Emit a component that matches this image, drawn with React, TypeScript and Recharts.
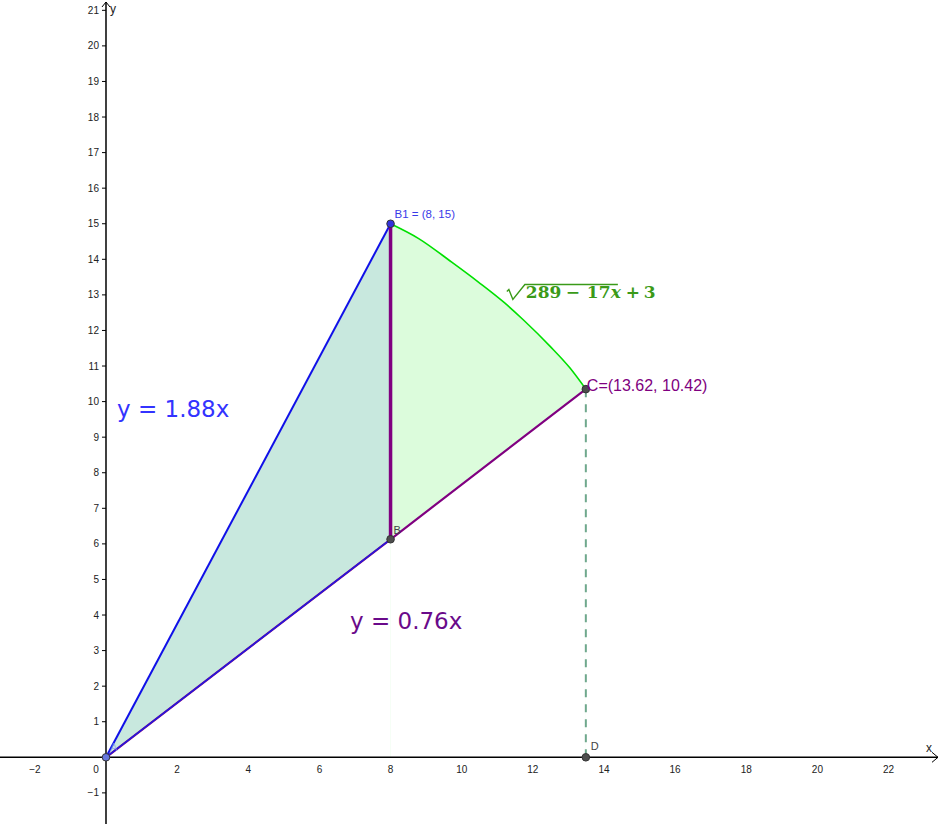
import { ComposedChart, XAxis, YAxis, Area, Line, Scatter, ReferenceLine, ReferenceDot } from 'recharts';

const X_DOMAIN: [number, number] = [-2.98, 23.475];
const Y_DOMAIN: [number, number] = [-1.875, 21.29];

// shaded triangle A - B1 - B (between y = 0.76x and y = 1.88x)
const triangleX = [0, 8];
const triangleLow = [0, 6.13];
const triangleHigh = [0, 15];

// green curve from B1 down to C
const curveX = [8, 8.78, 9.72, 10.47, 11.2, 11.73, 12.48, 13.04, 13.49];
const curveY = [15, 14.59, 13.92, 13.36, 12.78, 12.3, 11.56, 10.95, 10.35];

// y = 0.76x through A, B, C
const lowerLineX = [0, 8, 13.49];
const lowerLineY = [0, 6.13, 10.35];

// y = 1.88x from A to B1
const upperLineX = [0, 8];
const upperLineY = [0, 15];

// named points
const pointNames = ['A', 'B1', 'B', 'C', 'D'];
const pointX = [0, 8, 8, 13.49, 13.49];
const pointY = [0, 15, 6.13, 10.35, 0];
const pointLabels = ['A', 'B1 = (8, 15)', 'B', 'C=(13.62, 10.42)', 'D'];

const xTicks = [-2, 2, 4, 6, 8, 10, 12, 14, 16, 18, 20, 22];
const yTicks = [-1, 1, 2, 3, 4, 5, 6, 7, 8, 9, 10, 11, 12, 13, 14, 15, 16, 17, 18, 19, 20, 21];

const triangleData = triangleX.map((x, i) => ({ x, range: [triangleLow[i], triangleHigh[i]] }));
const curveData = curveX.map((x, i) => ({ x, y: curveY[i] }));
const lowerLineData = lowerLineX.map((x, i) => ({ x, y: lowerLineY[i] }));
const lowerBlueData = lowerLineData.slice(0, 2);
const coverData = lowerLineData.slice(1);
const upperLineData = upperLineX.map((x, i) => ({ x, y: upperLineY[i] }));
const pointData = pointNames.map((name, i) => ({ name, x: pointX[i], y: pointY[i], label: pointLabels[i] }));

const pt = (name: string) => {
  const i = pointNames.indexOf(name);
  return { x: pointX[i], y: pointY[i] };
};

const SANS = '"Liberation Sans", Arial, sans-serif';
const fmt = (v: number) => (v < 0 ? '\u2212' + Math.abs(v) : String(v));

// look of each named point and its caption
const pointStyle: Record<string, { fill: string; color: string; dx: number; dy: number; size: number; opacity: number }> = {
  A: { fill: '#6677dd', color: '#8a9af0', dx: 4, dy: -6, size: 11, opacity: 0.7 },
  B1: { fill: '#3333dd', color: '#3a3ae8', dx: 4, dy: -6, size: 11.5, opacity: 1 },
  B: { fill: '#4d4d4d', color: '#444', dx: 3, dy: -5, size: 11, opacity: 1 },
  C: { fill: '#4d4d4d', color: '#800080', dx: 1, dy: 2, size: 16, opacity: 1 },
  D: { fill: '#4d4d4d', color: '#444', dx: 5, dy: -7, size: 11, opacity: 1 },
};

const PointShape = (props: any) => {
  const { cx, cy, payload } = props;
  const s = pointStyle[payload.name];
  return (
    <g>
      <circle cx={cx} cy={cy} r={3.8} fill={s.fill} stroke="#333" strokeWidth={1} />
      <text x={cx + s.dx} y={cy + s.dy} fontSize={s.size} fontFamily={SANS} fill={s.color} fillOpacity={s.opacity}>
        {payload.label}
      </text>
    </g>
  );
};

const XTick = (props: any) => (
  <text x={props.cx} y={props.cy + 16} textAnchor="middle" fontSize={10} fontFamily={SANS} fill="#222">
    {props.label}
  </text>
);

const YTick = (props: any) => (
  <g>
    <line x1={props.cx - 4} y1={props.cy} x2={props.cx} y2={props.cy} stroke="#000" strokeWidth={1} />
    <text x={props.cx - 7} y={props.cy + 3.5} textAnchor="end" fontSize={10} fontFamily={SANS} fill="#222">
      {props.label}
    </text>
  </g>
);

const XAxisLine = (props: any) => {
  const left = Math.min(props.x1, props.x2);
  const right = Math.max(props.x1, props.x2) - 3;
  const y = props.y1;
  return (
    <g>
      <line x1={left} y1={y} x2={right} y2={y} stroke="#000" strokeWidth={1.5} />
      <polyline points={`${right - 6},${y - 5} ${right},${y} ${right - 6},${y + 5}`} fill="none" stroke="#000" strokeWidth={1} />
      <text x={right - 12} y={y - 5} fontSize={12} fontFamily={SANS} fill="#222">x</text>
    </g>
  );
};

const YAxisLine = (props: any) => {
  const top = Math.min(props.y1, props.y2) + 2;
  const bottom = Math.max(props.y1, props.y2);
  const x = props.x1;
  return (
    <g>
      <line x1={x} y1={bottom} x2={x} y2={top} stroke="#000" strokeWidth={1.5} />
      <polyline points={`${x - 4},${top + 5} ${x},${top} ${x + 4},${top + 5}`} fill="none" stroke="#000" strokeWidth={1} />
      <text x={x + 4} y={top + 11} fontSize={12} fontFamily={SANS} fill="#222">y</text>
    </g>
  );
};

const OriginLabel = (props: any) => (
  <text x={props.cx - 10} y={props.cy + 16} textAnchor="middle" fontSize={10} fontFamily={SANS} fill="#222">0</text>
);

const makeText = (text: string, color: string, size: number, family: string) =>
  (props: any) => (
    <text x={props.cx} y={props.cy} fontSize={size} fontFamily={family} fill={color}>
      {text}
    </text>
  );

const FormulaLabel = (props: any) => {
  const { cx, cy } = props;
  const c = '#3a9a18';
  const f = '"DejaVu Serif", "Liberation Serif", serif';
  return (
    <g fill={c} fontFamily={f} fontWeight="bold" fontSize={17}>
      <path
        d={`M${cx},${cy - 7} L${cx + 2},${cy - 9} L${cx + 6},${cy + 1} L${cx + 18},${cy - 14} L${cx + 111},${cy - 14}`}
        fill="none"
        stroke={c}
        strokeWidth={1.4}
      />
      <text x={cx + 19} y={cy}>289</text>
      <text x={cx + 59} y={cy}>{'\u2212'}</text>
      <text x={cx + 80} y={cy}>17</text>
      <text x={cx + 104} y={cy} fontStyle="italic">x</text>
      <text x={cx + 119} y={cy}>+</text>
      <text x={cx + 137} y={cy}>3</text>
    </g>
  );
};

export default function App() {
  const b1 = pt('B1');
  const b = pt('B');
  const c = pt('C');
  const d = pt('D');
  return (
    <div style={{ width: 941, height: 824 }}>
      <style>{'body{margin:0;overflow:hidden;background:#fff}'}</style>
      <ComposedChart width={941} height={824} margin={{ top: 0, right: 0, bottom: 0, left: 0 }}>
        <XAxis type="number" dataKey="x" domain={X_DOMAIN} allowDataOverflow hide />
        <YAxis type="number" domain={Y_DOMAIN} allowDataOverflow hide />

        <Area data={triangleData} dataKey="range" type="linear" stroke="none" fill="#c8e8de" fillOpacity={1} dot={false} activeDot={false} isAnimationActive={false} />
        <Area data={curveData} dataKey="y" type="monotone" baseValue={0} stroke="none" fill="#dcfcdc" fillOpacity={1} dot={false} activeDot={false} isAnimationActive={false} />
        <Area data={coverData} dataKey="y" type="linear" baseValue={0} stroke="none" fill="#ffffff" fillOpacity={1} dot={false} activeDot={false} isAnimationActive={false} />

        <ReferenceLine y={0} shape={XAxisLine} />
        <ReferenceLine x={0} shape={YAxisLine} />
        {xTicks.map((t) => (
          <ReferenceDot key={'xt' + t} x={t} y={0} r={0} shape={(p: any) => <XTick {...p} label={fmt(t)} />} />
        ))}
        {yTicks.map((t) => (
          <ReferenceDot key={'yt' + t} x={0} y={t} r={0} shape={(p: any) => <YTick {...p} label={fmt(t)} />} />
        ))}
        <ReferenceDot x={0} y={0} r={0} shape={OriginLabel} />

        <ReferenceLine segment={[c, d]} stroke="#6fa88c" strokeWidth={2} strokeDasharray="8 7" />

        <Line data={lowerLineData} dataKey="y" type="linear" stroke="#800080" strokeWidth={2.2} dot={false} activeDot={false} isAnimationActive={false} />
        <Line data={lowerBlueData} dataKey="y" type="linear" stroke="#1a1ae6" strokeWidth={1.4} dot={false} activeDot={false} isAnimationActive={false} />
        <Line data={upperLineData} dataKey="y" type="linear" stroke="#1010e8" strokeWidth={2} dot={false} activeDot={false} isAnimationActive={false} />
        <Line data={curveData} dataKey="y" type="monotone" stroke="#00e000" strokeWidth={1.6} dot={false} activeDot={false} isAnimationActive={false} />
        <ReferenceLine segment={[b1, b]} stroke="#800080" strokeWidth={3.5} />

        <Scatter data={pointData} dataKey="y" shape={PointShape} zIndex={2000} isAnimationActive={false} />

        <ReferenceDot x={0.31} y={9.57} r={0} shape={makeText('y = 1.88x', '#3333ff', 23, '"DejaVu Sans", sans-serif')} />
        <ReferenceDot x={6.86} y={3.6} r={0} shape={makeText('y = 0.76x', '#6a0a8a', 23, '"DejaVu Sans", sans-serif')} />
        <ReferenceDot x={11.27} y={12.9} r={0} shape={FormulaLabel} />
      </ComposedChart>
    </div>
  );
}
